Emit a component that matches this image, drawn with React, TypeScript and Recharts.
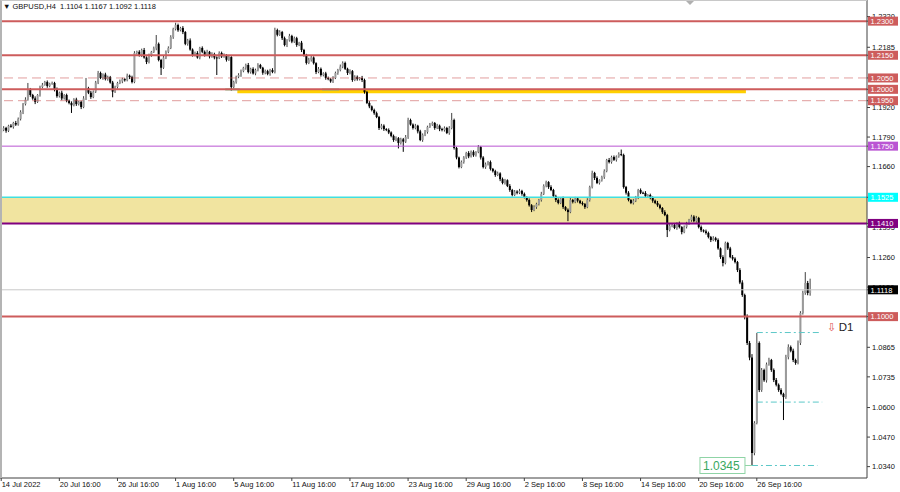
import React from 'react';
import { ComposedChart, Bar, XAxis, YAxis, ReferenceLine, ReferenceArea } from 'recharts';

const FONT = '"Liberation Sans", Arial, sans-serif';

const symbol = 'GBPUSD,H4';
const lastOhlc = ['1.1104', '1.1167', '1.1092', '1.1118'];

// H4 bars, prices in pips above 1.0000 (1821 -> 1.1821)
const firstOpen = 1810;
const closes = [
  1821, 1830, 1818, 1840, 1835, 1852, 1845, 1870, 1900, 1935, 1955, 2000, 1975, 1960, 1945, 1975, 2010, 2020, 2032, 2015, 2025, 2028, 2000, 1970,
  1985, 1960, 1975, 1950, 1940, 1930, 1955, 1935, 1945, 1922, 1960, 2005, 1985, 1966, 1990, 2030, 2072, 2050, 2065, 2045, 2054, 2030, 1990, 2010,
  2028, 2035, 2045, 2040, 2060, 2054, 2032, 2160, 2165, 2150, 2173, 2140, 2120, 2150, 2165, 2180, 2200, 2129, 2095, 2140, 2165, 2182, 2230, 2265,
  2283, 2260, 2270, 2252, 2200, 2215, 2175, 2151, 2160, 2140, 2182, 2165, 2151, 2165, 2145, 2155, 2140, 2138, 2160, 2145, 2150, 2130, 2142, 2010,
  2032, 2055, 2063, 2080, 2095, 2107, 2076, 2090, 2070, 2085, 2107, 2095, 2073, 2080, 2068, 2085, 2076, 2261, 2240, 2252, 2225, 2195, 2215, 2235,
  2210, 2225, 2195, 2205, 2173, 2150, 2116, 2130, 2140, 2115, 2076, 2090, 2063, 2070, 2050, 2045, 2035, 2050, 2072, 2085, 2100, 2116, 2090, 2072,
  2080, 2041, 2055, 2045, 2050, 2041, 1988, 1940, 1925, 1909, 1895, 1878, 1830, 1840, 1825, 1821, 1810, 1795, 1777, 1785, 1764, 1780, 1770, 1790,
  1865, 1845, 1830, 1840, 1815, 1777, 1800, 1812, 1835, 1845, 1852, 1830, 1840, 1825, 1821, 1830, 1808, 1830, 1865, 1742, 1700, 1658, 1680, 1700,
  1720, 1705, 1725, 1710, 1724, 1746, 1700, 1658, 1670, 1680, 1650, 1640, 1623, 1630, 1605, 1588, 1600, 1575, 1557, 1535, 1550, 1545, 1553, 1540,
  1525, 1513, 1490, 1469, 1482, 1495, 1513, 1540, 1575, 1592, 1570, 1557, 1530, 1513, 1500, 1520, 1482, 1470, 1460, 1513, 1505, 1520, 1510, 1500,
  1495, 1482, 1513, 1570, 1632, 1610, 1588, 1600, 1614, 1640, 1689, 1680, 1702, 1690, 1705, 1715, 1711, 1570, 1545, 1513, 1500, 1510, 1525, 1557,
  1545, 1544, 1530, 1535, 1522, 1510, 1500, 1490, 1478, 1460, 1447, 1381, 1400, 1403, 1390, 1410, 1394, 1372, 1395, 1410, 1425, 1440, 1420, 1434,
  1394, 1380, 1375, 1368, 1350, 1337, 1345, 1337, 1300, 1262, 1236, 1324, 1300, 1262, 1255, 1240, 1205, 1150, 1095, 998, 884, 820, 400, 532,
  884, 677, 765, 720, 790, 809, 765, 721, 700, 677, 660, 646, 822, 866, 850, 809, 796, 884, 1016, 1104, 1148, 1104, 1118,
];
// upper / lower shadow length, pips
const wickUp = [
  6, 8, 5, 4, 7, 5, 9, 6, 8, 5, 10, 28, 6, 5, 9, 4, 6, 8, 5, 7, 4, 6, 5, 8,
  5, 9, 4, 6, 5, 7, 6, 8, 4, 5, 10, 45, 6, 8, 5, 7, 9, 6, 5, 8, 6, 5, 7, 6,
  5, 8, 6, 4, 9, 5, 6, 8, 5, 7, 6, 9, 5, 7, 4, 8, 39, 6, 5, 9, 6, 7, 8, 6,
  10, 6, 5, 8, 4, 7, 9, 5, 6, 8, 5, 7, 6, 9, 4, 8, 6, 5, 7, 6, 8, 5, 9, 4,
  6, 5, 8, 7, 4, 6, 9, 5, 7, 6, 8, 5, 4, 7, 6, 5, 8, 10, 6, 8, 5, 7, 6, 9,
  5, 7, 6, 4, 8, 5, 6, 9, 7, 5, 4, 8, 6, 5, 7, 6, 4, 8, 6, 5, 9, 7, 6, 5,
  8, 5, 7, 6, 4, 9, 6, 5, 8, 4, 6, 7, 5, 8, 6, 4, 7, 5, 6, 8, 5, 7, 6, 9,
  10, 6, 5, 8, 4, 7, 6, 9, 5, 7, 6, 4, 8, 5, 6, 7, 5, 8, 31, 6, 5, 4, 7, 6,
  5, 8, 6, 7, 4, 9, 5, 6, 8, 5, 7, 4, 6, 8, 5, 7, 6, 4, 8, 5, 7, 6, 9, 5,
  6, 4, 7, 5, 8, 6, 5, 9, 7, 6, 4, 8, 5, 6, 7, 5, 8, 4, 6, 9, 5, 7, 6, 4,
  7, 5, 8, 6, 10, 5, 7, 4, 6, 8, 5, 9, 6, 7, 4, 8, 20, 6, 5, 7, 4, 8, 6, 5,
  7, 5, 8, 4, 6, 7, 5, 9, 6, 4, 8, 5, 7, 6, 9, 5, 8, 4, 6, 7, 5, 8, 6, 9,
  5, 7, 4, 8, 6, 5, 9, 6, 7, 4, 8, 6, 5, 7, 9, 6, 5, 8, 10, 6, 12, 9, 15, 8,
  44, 7, 9, 6, 8, 10, 5, 7, 9, 6, 8, 5, 10, 12, 7, 9, 6, 11, 8, 10, 48, 9, 49,
];
const wickDn = [
  7, 5, 9, 6, 4, 8, 6, 5, 7, 9, 6, 5, 8, 6, 10, 5, 7, 6, 4, 8, 6, 5, 9, 7,
  6, 8, 5, 7, 6, 34, 5, 8, 6, 9, 5, 7, 6, 8, 5, 6, 7, 5, 8, 6, 7, 5, 25, 6,
  7, 5, 8, 6, 5, 9, 6, 5, 7, 6, 8, 5, 9, 6, 7, 5, 8, 6, 32, 5, 7, 6, 5, 8,
  6, 7, 5, 9, 6, 8, 5, 7, 6, 5, 8, 6, 7, 5, 9, 6, 8, 75, 5, 7, 6, 8, 5, 15,
  5, 7, 6, 8, 5, 9, 6, 7, 5, 8, 6, 5, 9, 7, 6, 8, 5, 6, 7, 5, 8, 6, 9, 5,
  7, 6, 8, 5, 9, 6, 7, 5, 8, 6, 9, 5, 7, 6, 8, 5, 6, 7, 5, 8, 6, 7, 5, 9,
  6, 8, 5, 7, 6, 9, 7, 5, 8, 6, 7, 5, 9, 6, 8, 5, 7, 6, 8, 5, 24, 7, 45, 6,
  8, 5, 7, 6, 9, 5, 8, 6, 7, 5, 6, 8, 5, 9, 6, 7, 5, 8, 6, 7, 8, 6, 5, 7,
  6, 8, 5, 7, 6, 5, 9, 6, 8, 5, 7, 6, 8, 5, 9, 6, 7, 5, 8, 6, 5, 7, 6, 8,
  5, 7, 6, 9, 5, 8, 6, 7, 5, 6, 8, 5, 7, 9, 6, 5, 8, 6, 40, 5, 7, 6, 8, 5,
  6, 8, 5, 7, 6, 9, 5, 7, 6, 8, 5, 6, 7, 5, 8, 6, 5, 7, 8, 6, 5, 7, 6, 8,
  6, 5, 8, 7, 6, 9, 5, 7, 6, 8, 5, 31, 6, 7, 5, 8, 6, 10, 5, 7, 6, 8, 5, 7,
  6, 8, 5, 7, 6, 9, 5, 7, 6, 8, 15, 6, 7, 5, 8, 6, 9, 7, 8, 10, 9, 12, 53, 10,
  6, 9, 8, 7, 10, 6, 8, 9, 7, 8, 6, 101, 8, 10, 7, 9, 8, 6, 9, 7, 8, 10, 12,
];

const totalSlots = 358; // bars + empty space on the right
const dateTickBars = [0, 24, 48, 72, 96, 120, 144, 168, 192, 216, 240, 264, 288, 312];
const dateLabels = [
  '14 Jul 2022', '20 Jul 16:00', '26 Jul 16:00', '1 Aug 16:00', '5 Aug 16:00', '11 Aug 16:00', '17 Aug 16:00',
  '23 Aug 16:00', '29 Aug 16:00', '2 Sep 16:00', '8 Sep 16:00', '14 Sep 16:00', '20 Sep 16:00', '26 Sep 16:00',
];
// scale labels that are not hidden under a level tag
const priceTicks = [1.034, 1.047, 1.06, 1.0735, 1.0865, 1.113, 1.126, 1.1395, 1.166, 1.179, 1.192, 1.2185, 1.232];

const redLevels = [1.23, 1.215, 1.2, 1.1];
const dashedLevels = [1.205, 1.195];
const zoneTop = 1.1525;
const zoneBottom = 1.141;
const purpleLevel = 1.175;
const lastPrice = 1.1118;
const lowPrice = 1.0345;
const rangeHigh = 1.093;
const rangeLow = 1.0624;
const tagPrices = [...redLevels, ...dashedLevels, purpleLevel, zoneTop, zoneBottom, lastPrice];

const pip = (v: number) => 1 + v / 10000;

const rows: any[] = [];
for (let i = 0; i < totalSlots; i++) {
  if (i < closes.length) {
    const o = i === 0 ? firstOpen : closes[i - 1];
    const c = closes[i];
    rows.push({
      i,
      open: pip(o),
      close: pip(c),
      high: pip(Math.max(o, c) + (wickUp[i] ?? 5)),
      low: pip(Math.min(o, c) - (wickDn[i] ?? 5)),
    });
  } else {
    rows.push({ i });
  }
}

const RED = '#cd5c5c';
const PURPLE = '#ba55d3';
const DASHDOT = '#5cc8c8';

const tagColor = (v: number) => {
  if (v === purpleLevel) return PURPLE;
  if (v === zoneTop) return '#00ffff';
  if (v === zoneBottom) return '#800080';
  if (v === lastPrice) return '#000';
  return RED;
};

const Candle = (props: any) => {
  const { x, y, width, height, payload } = props;
  if (!payload || payload.open == null) return <g />;
  const { open, close, high, low } = payload;
  const top = Math.min(y, y + height);
  const h = Math.abs(height);
  const k = h / (high - low);
  const cx = x + width / 2;
  const yO = top + (high - open) * k;
  const yC = top + (high - close) * k;
  const up = close >= open;
  const bTop = Math.min(yO, yC);
  const bH = Math.max(Math.abs(yO - yC), 0.9);
  return (
    <g>
      <line x1={cx} x2={cx} y1={top} y2={top + h} stroke={up ? '#404040' : '#000'} strokeWidth={1} />
      <rect x={cx - 1} y={bTop} width={2} height={bH} fill={up ? '#9a9a9a' : '#000'} />
    </g>
  );
};

const PriceTick = (props: any) => {
  const { x, y, payload } = props;
  const v = payload.value;
  if (tagPrices.includes(v)) {
    return (
      <g>
        <rect x={x - 4} y={y - 4.5} width={30} height={9} fill={tagColor(v)} />
        <text x={x - 1.5} y={y + 2.8} fontSize={7.5} fill="#fff" fontFamily={FONT}>
          {v.toFixed(4)}
        </text>
      </g>
    );
  }
  return (
    <text x={x} y={y + 2.8} fontSize={7.5} fill="#111" fontFamily={FONT}>
      {v.toFixed(4)}
    </text>
  );
};

const lowLabel = (p: any) => {
  const vb = p.viewBox;
  return (
    <g>
      <line x1={vb.x - 7} x2={vb.x} y1={vb.y} y2={vb.y} stroke="#8fd4a6" />
      <rect x={vb.x - 52} y={vb.y - 8} width={45} height={16} fill="#fff" stroke="#8fd4a6" />
      <text x={vb.x - 49} y={vb.y + 4.5} fontSize={12} fill="#3aa860" fontFamily={FONT}>
        {lowPrice.toFixed(4)}
      </text>
    </g>
  );
};

const d1Label = (p: any) => {
  const vb = p.viewBox;
  const x = vb.x + vb.width;
  return (
    <g fontFamily={FONT}>
      <text x={x + 7} y={vb.y - 2} fontSize={11} fill="#e05050">⇩</text>
      <text x={x + 19} y={vb.y - 2} fontSize={11.5} fill="#222">D1</text>
    </g>
  );
};

const DateTick = (props: any) => {
  const { x, y, payload } = props;
  const idx = dateTickBars.indexOf(payload.value);
  return (
    <text x={x + 0.5} y={y} dy="0.71em" textAnchor="start" fontSize={7.5} fill="#111" fontFamily={FONT}>
      {dateLabels[idx]}
    </text>
  );
};

export default function App() {
  return (
    <div style={{ position: 'absolute', left: 0, top: 0, width: 900, height: 492, background: '#fff', fontFamily: FONT }}>
      <ComposedChart width={900} height={492} data={rows} margin={{ top: 0, right: 0, bottom: 0, left: 0 }} barCategoryGap="10%">
        <XAxis
          dataKey="i"
          type="category"
          height={14}
          ticks={dateTickBars}
          interval={0}
          tickSize={3}
          tickMargin={1}
          tick={<DateTick />}
          axisLine={{ stroke: '#404040' }}
          tickLine={{ stroke: '#404040' }}
        />
        <YAxis
          orientation="right"
          type="number"
          width={33}
          domain={[1.029, 1.2393]}
          allowDataOverflow
          ticks={[...priceTicks, ...tagPrices]}
          interval={0}
          tickSize={3}
          tickMargin={2}
          tick={<PriceTick />}
          axisLine={{ stroke: '#404040' }}
          tickLine={{ stroke: '#404040' }}
        />

        <ReferenceArea y1={zoneBottom} y2={zoneTop} fill="#f1e4a0" fillOpacity={1} stroke="none" />
        <ReferenceArea x1={0} x2={307} y1={1.1727} y2={1.1757} fill="#fbd6b8" fillOpacity={1} stroke="none" />
        <ReferenceArea x1={98} x2={307} y1={1.19825} y2={1.1997} fill="#ffd000" fillOpacity={1} stroke="none" />
        <ReferenceArea x1={93} x2={98} y1={1.1995} y2={1.2004} fill="#7fc48a" fillOpacity={1} stroke="none" />
        <ReferenceArea x1={133} x2={139} y1={1.1995} y2={1.2004} fill="#7fc48a" fillOpacity={1} stroke="none" />

        {redLevels.map((p) => (
          <ReferenceLine key={p} y={p} stroke={RED} strokeWidth={2} />
        ))}
        {dashedLevels.map((p) => (
          <ReferenceLine key={p} y={p} stroke={RED} strokeOpacity={0.6} strokeWidth={1} strokeDasharray="9 5" />
        ))}
        <ReferenceLine y={purpleLevel} stroke={PURPLE} strokeWidth={1} />
        <ReferenceLine y={zoneTop} stroke="#40e0e0" strokeWidth={1.5} />
        <ReferenceLine y={zoneBottom} stroke="#800080" strokeWidth={2} />
        <ReferenceLine y={lastPrice} stroke="#c8c8c8" strokeWidth={1} />

        <ReferenceLine
          segment={[{ x: 312, y: rangeHigh }, { x: 338, y: rangeHigh }]}
          stroke={DASHDOT}
          strokeDasharray="6 3 2 3"
          label={d1Label}
        />
        <ReferenceLine segment={[{ x: 312, y: rangeLow }, { x: 339, y: rangeLow }]} stroke={DASHDOT} strokeDasharray="6 3 2 3" />
        <ReferenceLine
          segment={[{ x: 310, y: lowPrice }, { x: 337, y: lowPrice }]}
          stroke={DASHDOT}
          strokeDasharray="6 3 2 3"
          label={lowLabel}
        />

        <Bar dataKey={(d: any) => (d.low == null ? undefined : [d.low, d.high])} shape={<Candle />} isAnimationActive={false} />
      </ComposedChart>

      <div
        style={{
          position: 'absolute', left: 0, top: 0, width: 867, height: 478, boxSizing: 'border-box',
          borderLeft: '2px solid #b4b4b4', borderTop: '1px solid #c8c8c8', pointerEvents: 'none',
        }}
      />
      <div style={{ position: 'absolute', left: 3, top: 3, fontSize: 7.5, lineHeight: '8px', color: '#111', whiteSpace: 'pre' }}>
        {'▼ ' + symbol + '  ' + lastOhlc.join(' ')}
      </div>
      <div
        style={{
          position: 'absolute', left: 686, top: 1, width: 0, height: 0,
          borderLeft: '4px solid transparent', borderRight: '4px solid transparent', borderTop: '4px solid #b0b0b0',
        }}
      />
    </div>
  );
}
